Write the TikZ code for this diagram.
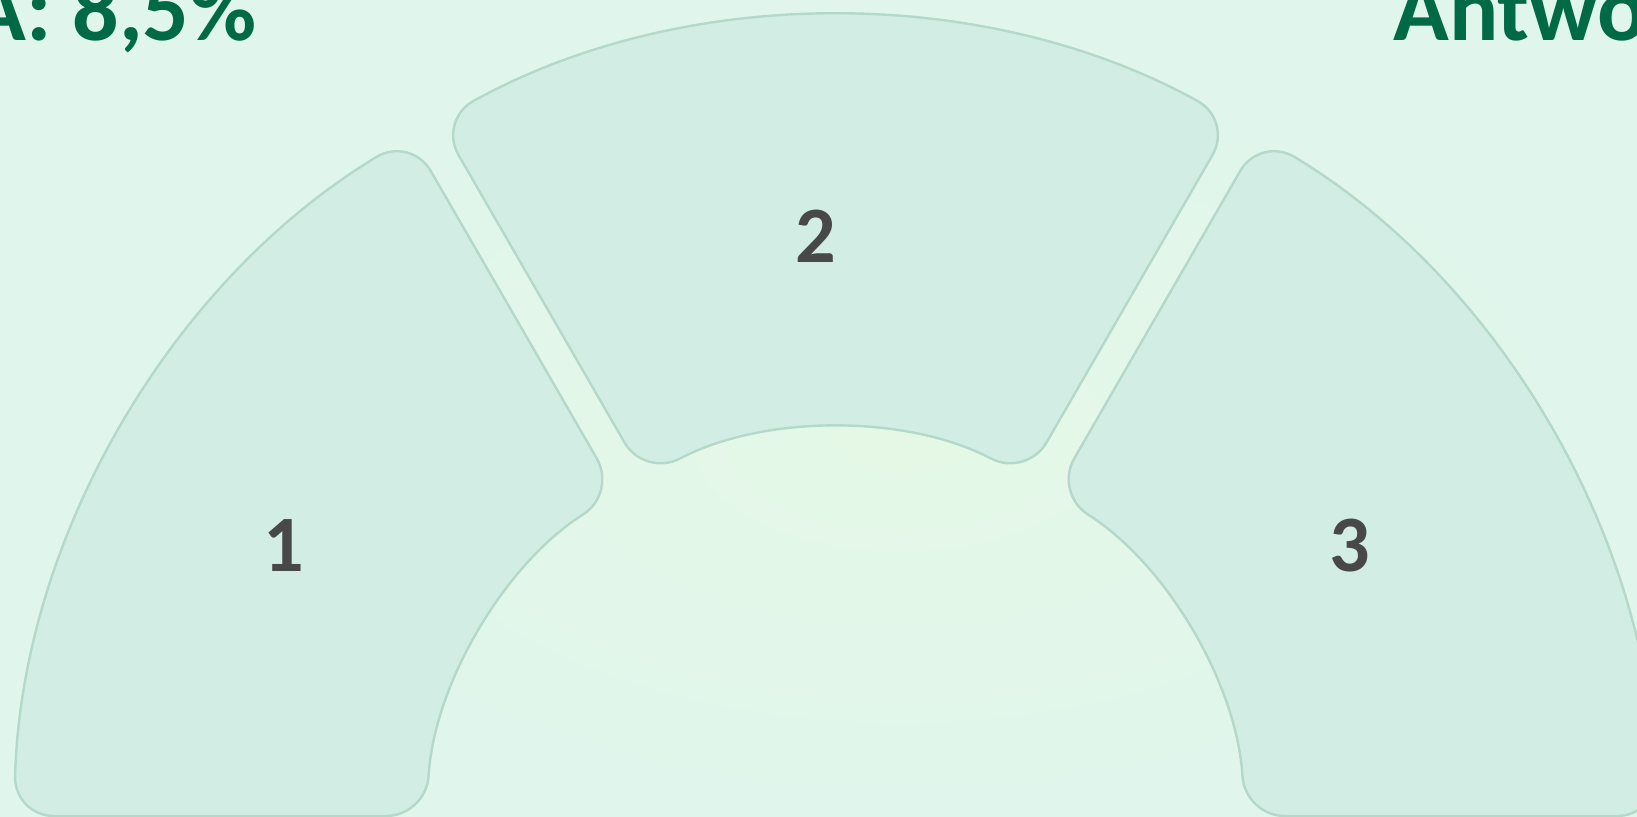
\documentclass[tikz,border=0pt]{standalone}
\usepackage{fontspec}
\setmainfont{Carlito}
\usetikzlibrary{positioning}
\definecolor{gaugebg}{RGB}{224,246,236}
\definecolor{gaugebgmid}{RGB}{229,248,230}
\definecolor{segfill}{RGB}{210,238,228}
\definecolor{segline}{RGB}{180,216,202}
\definecolor{hdrgreen}{RGB}{0,106,70}
\definecolor{numgray}{RGB}{72,72,72}
\tikzset{
  segment/.style={fill=segfill, draw=segline, line width=1.2pt,
    rounded corners=20pt},
  header/.style={font=\fontsize{46}{46}\selectfont\bfseries,
    text=hdrgreen, inner sep=0pt},
  seglabel/.style={font=\fontsize{40}{40}\selectfont\bfseries,
    text=numgray, inner sep=0pt, anchor=base}
}

\begin{document}
\begin{tikzpicture}[x=0.5pt, y=0.5pt]
  \useasboundingbox (0,0) rectangle (1637,817);
  \clip (0,0) rectangle (1637,817);
  % Background
  \fill[gaugebg] (0,0) rectangle (1637,817);
  \shade[inner color=gaugebgmid, outer color=gaugebg] (900,380) ellipse (700 and 380);
  % Gauge segments (half gap at each edge)
  \begin{scope}[shift={(835.5,-23)}]
    \foreach \sa/\ea/\hs/\he in {120/180/16/24, 60/120/16/16, 0/60/24/16} {
      \draw[segment] ({\sa+asin(\hs/614)}:614) -- ({\sa+asin(\hs/822)}:822)
        arc[start angle={\sa+asin(\hs/822)}, end angle={\ea-asin(\he/822)}, radius=822]
        -- ({\ea-asin(\he/410)}:410)
        arc[start angle={\ea-asin(\he/410)}, end angle={\sa+asin(\hs/410)}, radius=410]
        -- cycle;
    }
  \end{scope}
  % Segment labels
  \node[seglabel] (lbl1) at (283.5,245) {1};
  \node[seglabel] (lbl2) at (816,554) {2};
  \node[seglabel] (lbl3) at (1350,245) {3};
  % Headers
  \node[header, anchor=base east] (hdrleft) at (257,776.3) {A: 8,5\%};
  \node[header, anchor=base west] (hdrright) at (1393,776.3) {Antwo};
\end{tikzpicture}
\end{document}
